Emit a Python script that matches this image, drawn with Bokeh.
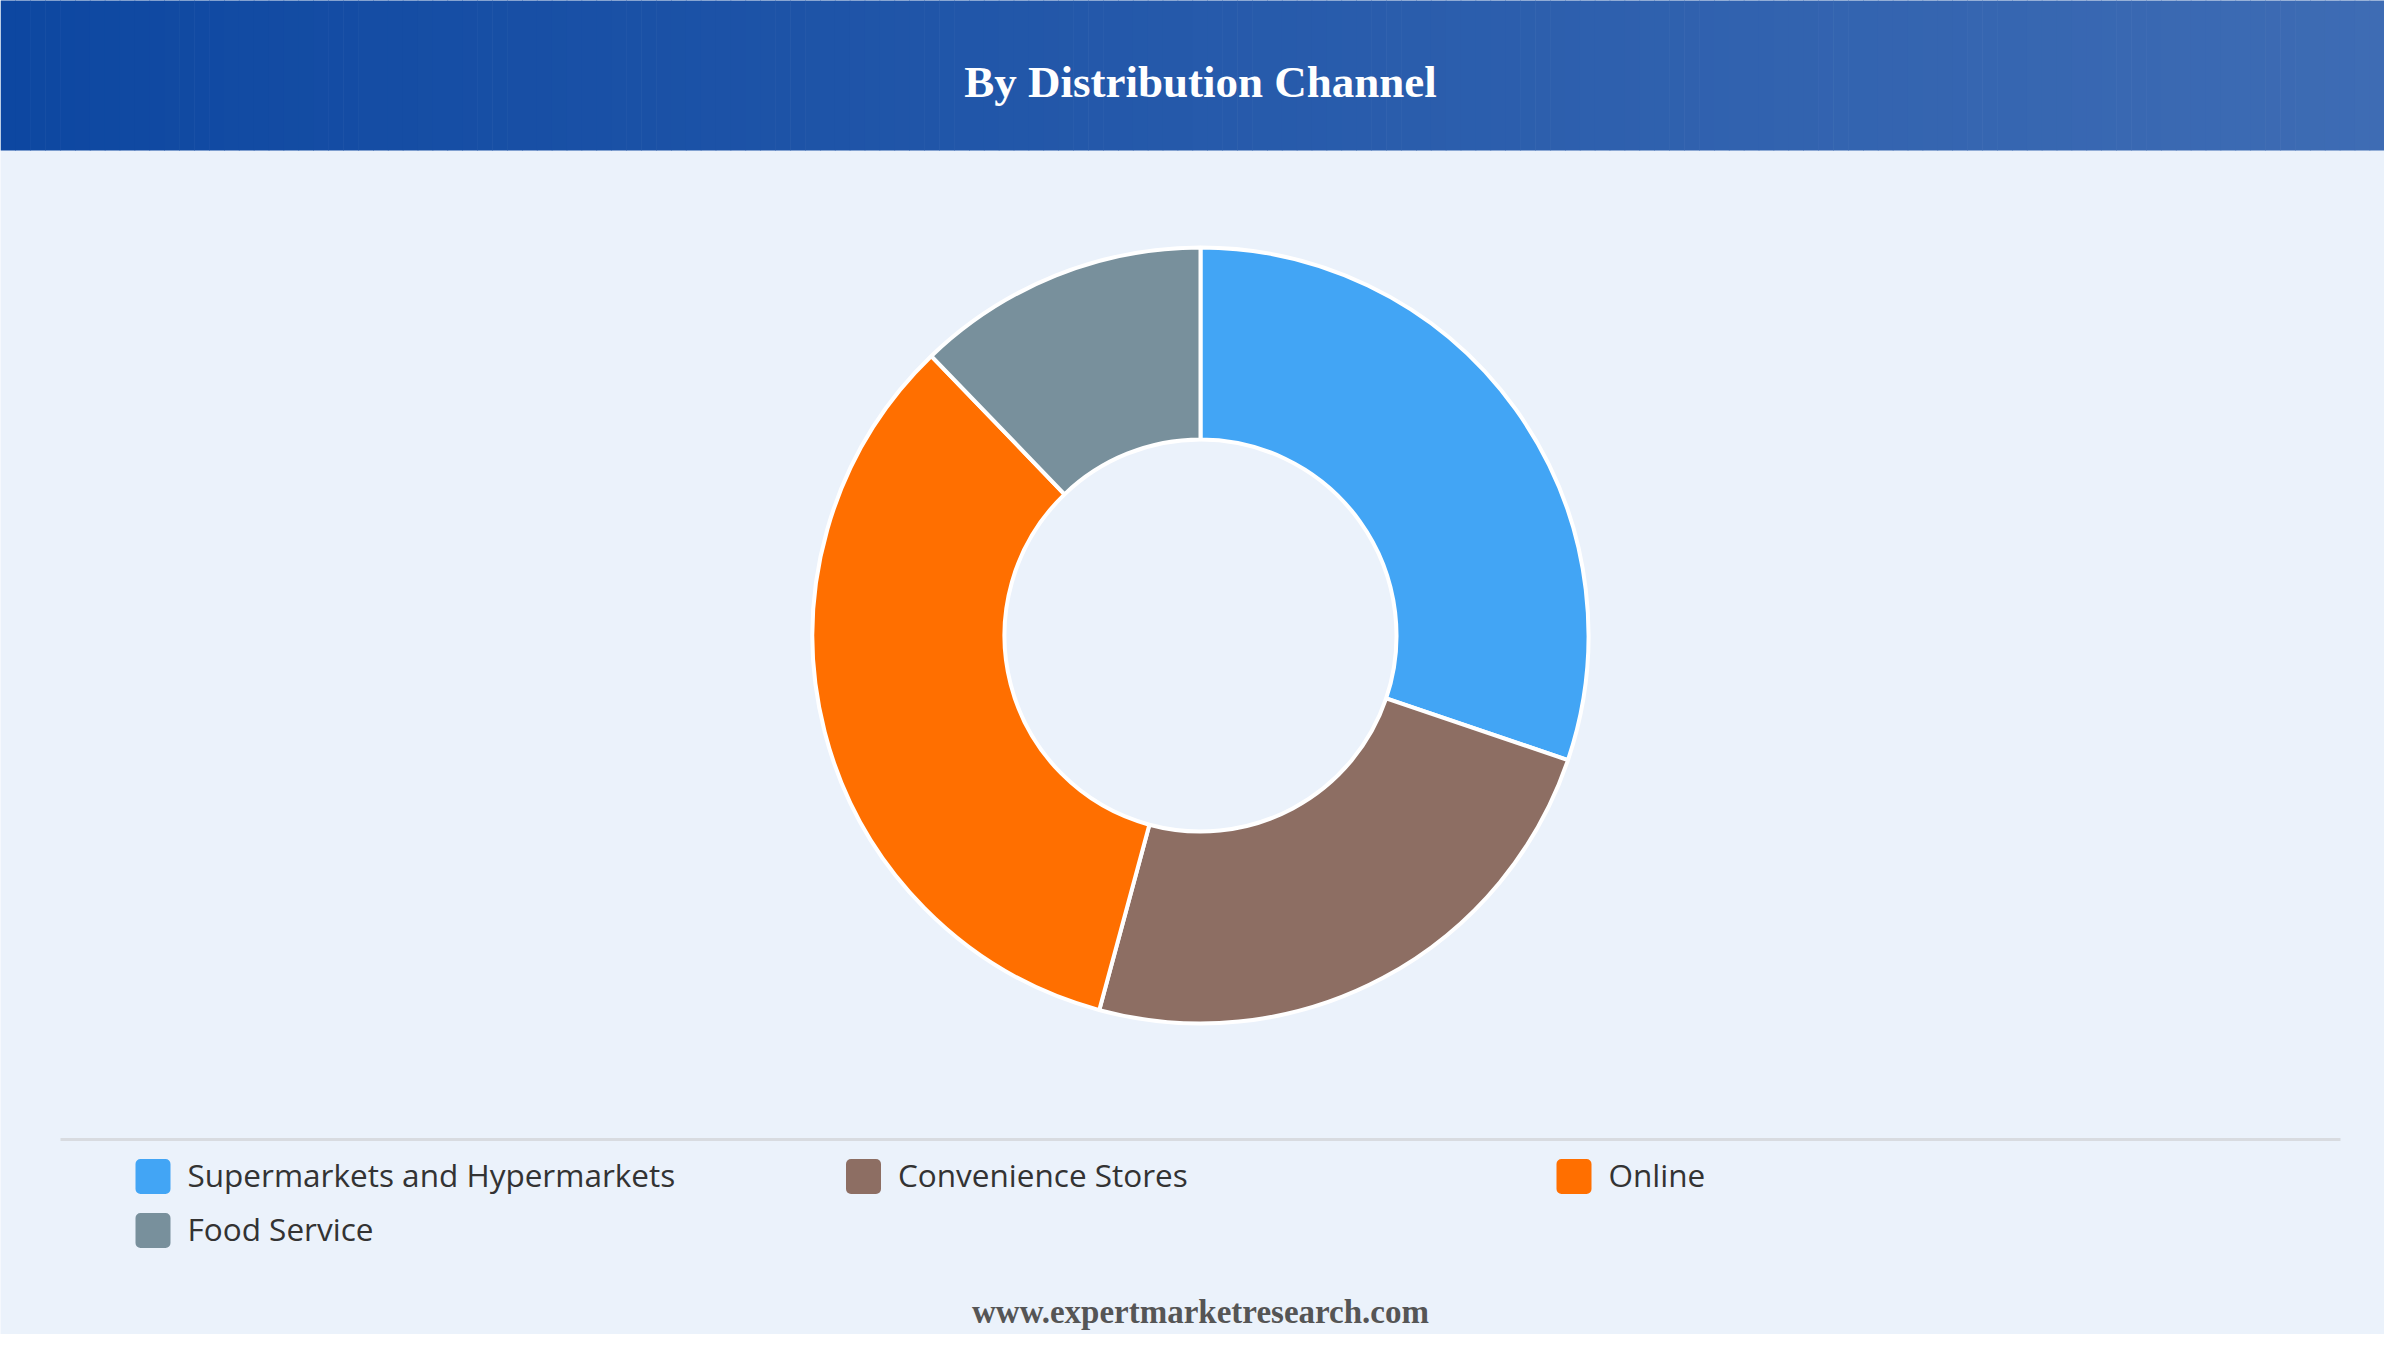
import numpy as np
from bokeh.plotting import figure
from bokeh.models import ColumnDataSource, Range1d
from bokeh.core.properties import value
from bokeh.embed import file_html
from bokeh.resources import INLINE

# ---- data ----
title = "By Distribution Channel"
footer = "www.expertmarketresearch.com"
categories = ["Supermarkets and Hypermarkets", "Convenience Stores", "Online", "Food Service"]
shares = [30.2, 24.0, 33.6, 12.2]
colors = ["#42a5f5", "#8d6e63", "#ff6f00", "#78909c"]

BG = "#ebf2fb"
W, H = 2384, 1334

p = figure(width=W, height=H, output_backend="svg", toolbar_location=None,
           x_range=Range1d(0, W), y_range=Range1d(0, H),
           min_border=0, min_border_left=0, min_border_right=0,
           min_border_top=0, min_border_bottom=0)
p.axis.visible = False
p.grid.visible = False
p.outline_line_color = None
p.background_fill_color = BG
p.border_fill_color = BG


def Y(page_y):
    # convert top-down pixel coordinate to data y
    return H - page_y


# ---- header gradient band ----
n = 160
edges = np.linspace(0, W, n + 1)
c0 = np.array([13, 71, 161])
c1 = np.array([62, 108, 180])
t = (edges[:-1] + edges[1:]) / 2 / W
cols = ["#%02x%02x%02x" % tuple(int(round(v)) for v in (c0 + (c1 - c0) * tt)) for tt in t]
p.quad(left=edges[:-1], right=edges[1:] + 0.6, top=Y(-2), bottom=Y(150),
       fill_color=cols, line_color=None)

p.text(x=[1200], y=[Y(81)], text=[title], text_align="center", text_baseline="middle",
       text_color="white", text_font=value("Liberation Serif"), text_font_style="bold",
       text_font_size="45px")

# ---- donut ----
fr = np.array(shares) / sum(shares)
cum = np.concatenate([[0], np.cumsum(fr)])
start = np.pi / 2 - 2 * np.pi * cum[:-1]
end = np.pi / 2 - 2 * np.pi * cum[1:]
src = ColumnDataSource(dict(cat=categories, start=start, end=end, color=colors))
p.annular_wedge(x=1200, y=Y(635), inner_radius=196, outer_radius=388,
                inner_radius_units="screen", outer_radius_units="screen",
                start_angle="start", end_angle="end", direction="clock",
                fill_color="color", line_color="white", line_width=4, source=src)

# ---- separator ----
p.segment(x0=[60], y0=[Y(1139)], x1=[2340], y1=[Y(1139)], line_color="#d8dbe0", line_width=3)

# ---- legend ----
idx = np.arange(len(categories))
colx = 135 + 710.5 * (idx % 3)
rowc = np.array([1176, 1230])[idx // 3]
lsrc = ColumnDataSource(dict(l=colx, r=colx + 35, t=Y(rowc - 17.5), b=Y(rowc + 17.5),
                             tx=colx + 52, ty=Y(rowc - 2), cat=categories, color=colors))
p.quad(left="l", right="r", top="t", bottom="b", fill_color="color", line_color=None,
       border_radius=5, source=lsrc)
p.text(x="tx", y="ty", text="cat", source=lsrc, text_align="left", text_baseline="middle",
       text_color="#333333", text_font=value("Open Sans"), text_font_size="31.5px")

# ---- footer ----
p.text(x=[1200], y=[Y(1311)], text=[footer], text_align="center", text_baseline="middle",
       text_color="#555555", text_font=value("Liberation Serif"), text_font_style="bold",
       text_font_size="33px")

open("out.html", "w").write(file_html(p, INLINE))
